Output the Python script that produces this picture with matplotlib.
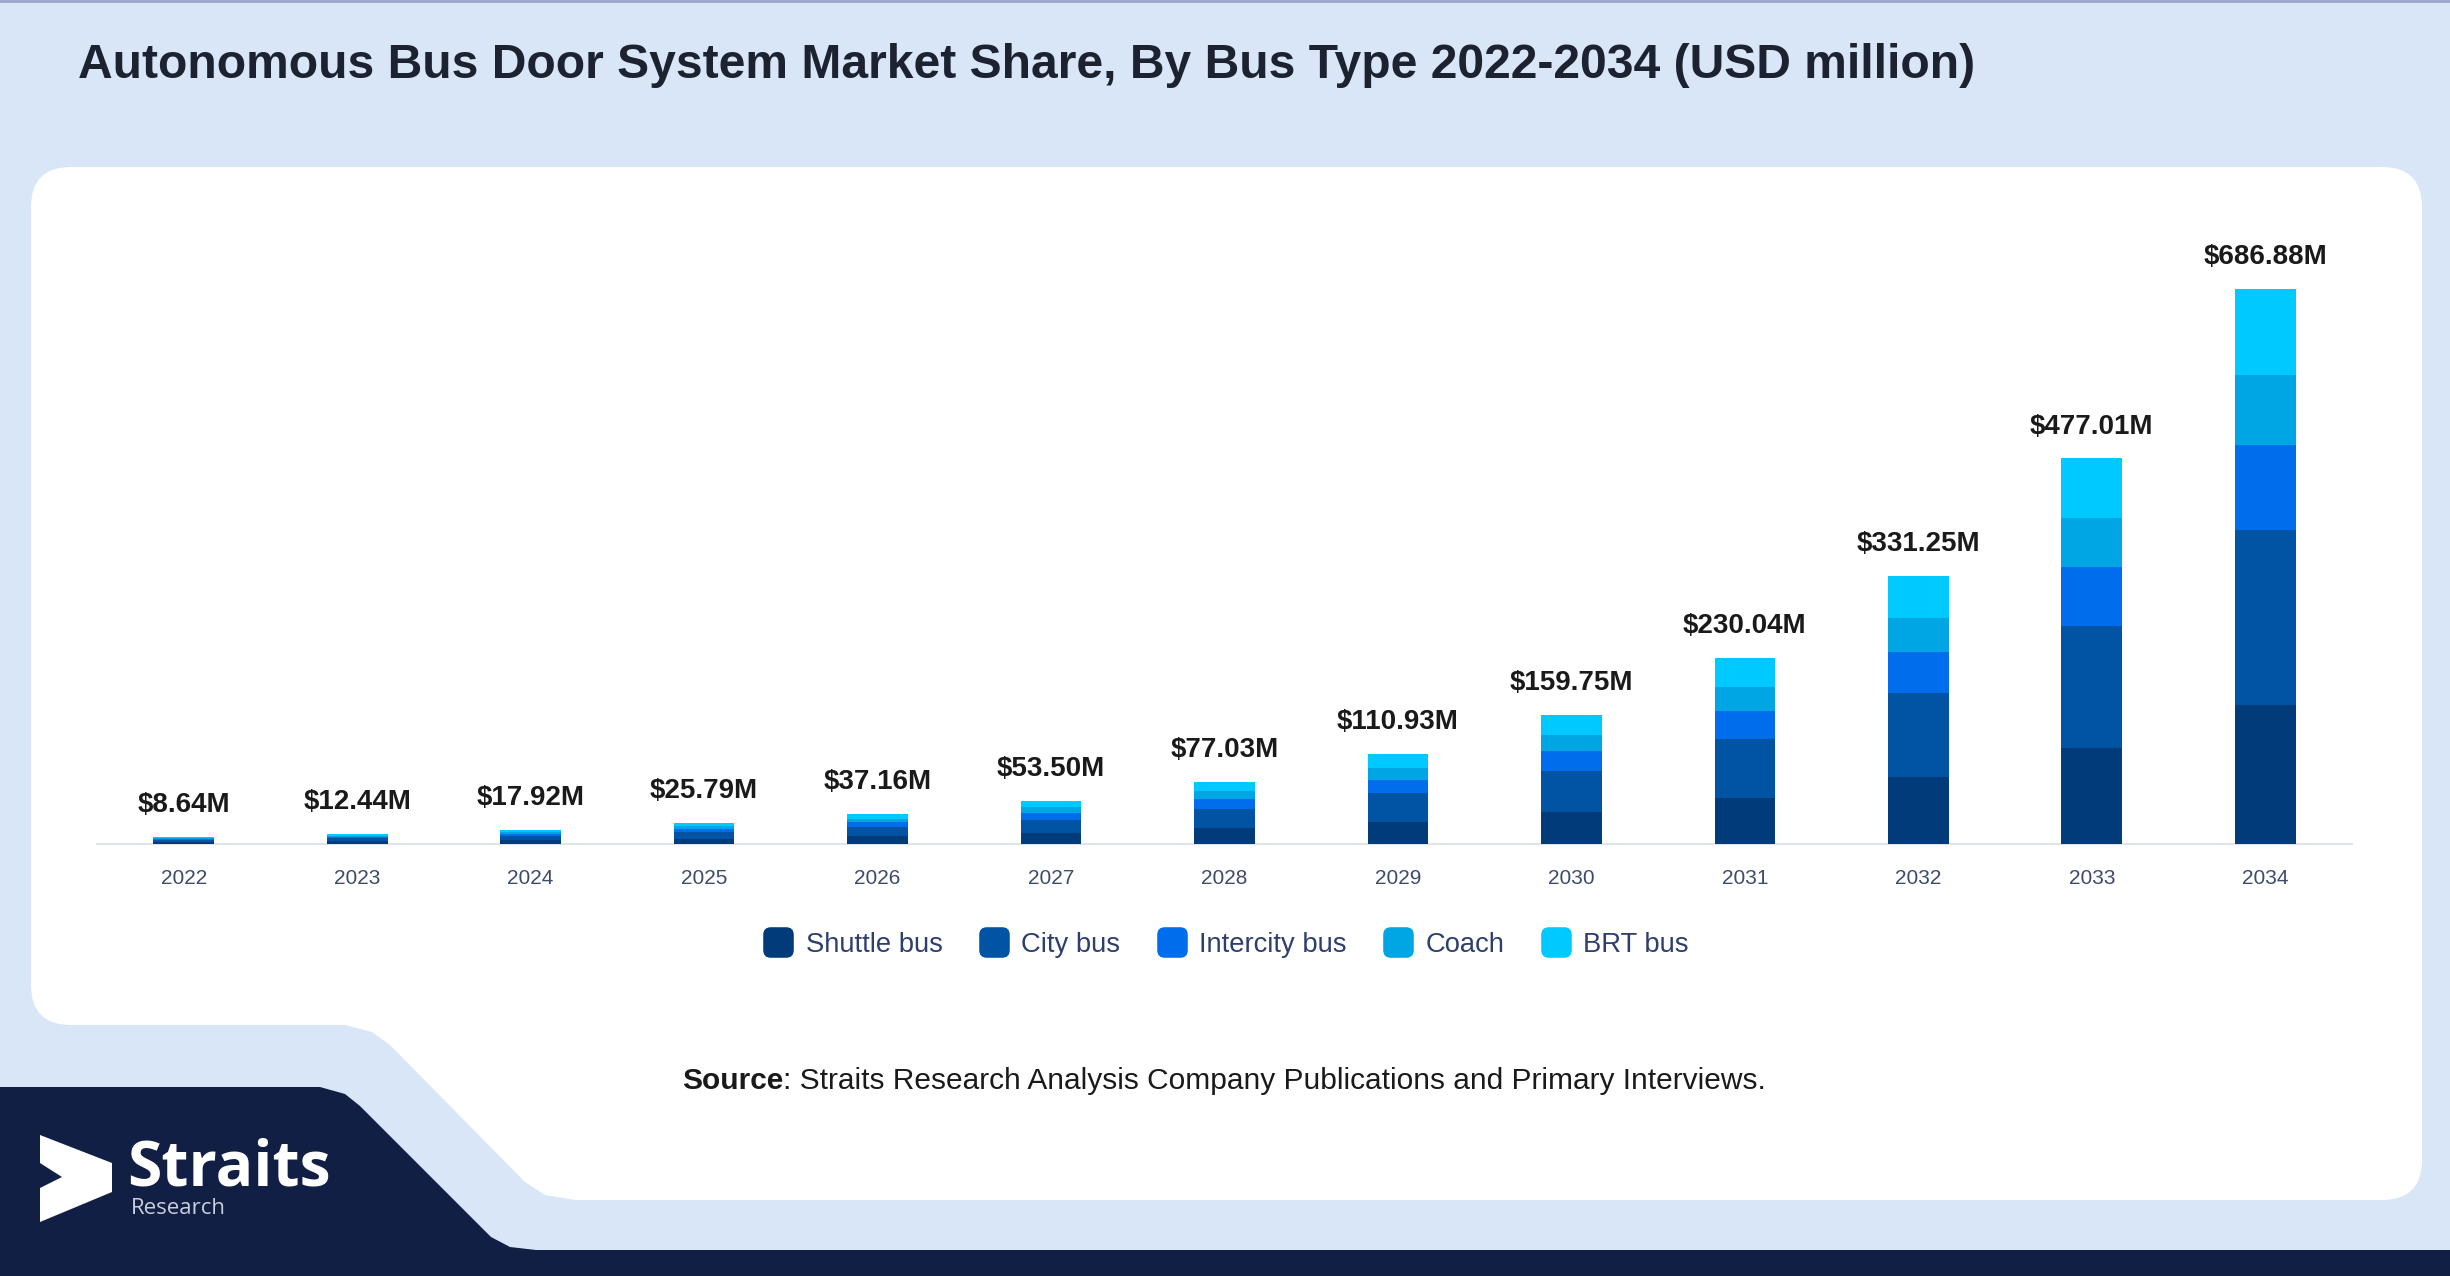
import matplotlib.pyplot as plt
import numpy as np
from matplotlib.patches import FancyBboxPatch, Polygon, BoxStyle
from matplotlib.lines import Line2D

# Datos del gráfico (USD millones)
years = ['2022', '2023', '2024', '2025', '2026', '2027', '2028',
         '2029', '2030', '2031', '2032', '2033', '2034']
totals = [8.64, 12.44, 17.92, 25.79, 37.16, 53.50, 77.03,
          110.93, 159.75, 230.04, 331.25, 477.01, 686.88]
shuttle = [2.16, 3.11, 4.48, 6.45, 9.29, 13.38, 19.26,
           27.73, 39.94, 57.51, 82.81, 119.25, 171.72]
city = [2.72, 3.92, 5.64, 8.12, 11.71, 16.85, 24.26,
        34.94, 50.32, 72.46, 104.34, 150.26, 216.37]
intercity = [1.32, 1.90, 2.74, 3.95, 5.69, 8.19, 11.79,
             16.97, 24.44, 35.20, 50.68, 72.98, 105.09]
coach = [1.10, 1.58, 2.28, 3.28, 4.72, 6.79, 9.78,
         14.09, 20.29, 29.22, 42.07, 60.58, 87.23]
brt = [1.34, 1.93, 2.78, 3.99, 5.75, 8.29, 11.94,
       17.20, 24.76, 35.65, 51.35, 73.94, 106.47]

series_names = ['Shuttle bus', 'City bus', 'Intercity bus', 'Coach', 'BRT bus']
series_colors = ['#013b79', '#0153a4', '#006ded', '#00a5e3', '#00c9ff']

plt.rcParams['font.family'] = ['Liberation Sans', 'DejaVu Sans']

W, H = 2450, 1276
fig = plt.figure(figsize=(W / 100, H / 100), dpi=100)
fig.patch.set_facecolor('#d9e6f8')

# Capa de fondo en coordenadas de pixel
bg = fig.add_axes([0, 0, 1, 1], zorder=0)
bg.set_xlim(0, W)
bg.set_ylim(H, 0)
bg.axis('off')

# Panel blanco
bg.add_patch(FancyBboxPatch((31 + 40, 167 + 40), 2391 - 80, 1033 - 80,
                            boxstyle='round,pad=40', fc='white', ec='none'))
# Recorte azul claro abajo a la izquierda
bg.add_patch(Polygon([(0, 980), (300, 980), (300, 1025), (345, 1025), (372, 1032),
                      (390, 1045), (525, 1182), (545, 1195), (575, 1200), (0, 1200)],
                     closed=True, fc='#d9e6f8', ec='none'))
bg.add_patch(FancyBboxPatch((31 + 40, 900), 500, 125 - 40,
                            boxstyle='round,pad=40', fc='white', ec='none'))
# Franja azul marino
bg.add_patch(Polygon([(0, 1087), (320, 1087), (345, 1094), (360, 1106), (491, 1237),
                      (510, 1247), (536, 1250), (W, 1250), (W, H), (0, H)],
                     closed=True, fc='#111f45', ec='none'))
bg.plot([0, W], [1, 1], color='#9aa6c8', lw=2)

# Logo
bg.add_patch(Polygon([(40, 1135), (112, 1163), (112, 1192), (40, 1222),
                      (40, 1188), (62, 1177), (40, 1163)],
                     closed=True, fc='white', ec='none'))
bg.text(127, 1186, 'Straits', fontsize=45, fontweight='bold', family='Open Sans',
        color='white', ha='left', va='baseline')
bg.text(131, 1214, 'Research', fontsize=16, family='Open Sans',
        color='#c9cfdd', ha='left', va='baseline')

# Título
bg.text(78, 66, 'Autonomous Bus Door System Market Share, By Bus Type 2022-2034 (USD million)',
        fontsize=34.6, fontweight='bold', color='#1c2230', ha='left', va='center')

# Fuente
bg.text(783, 1081, 'Source', fontsize=21.5, fontweight='bold', color='#1a1a1a',
        ha='right', va='center')
bg.text(783, 1081, ': Straits Research Analysis Company Publications and Primary Interviews.',
        fontsize=21.5, color='#1a1a1a', ha='left', va='center')

# Gráfico de barras apiladas
ax = fig.add_axes([97 / W, 1 - 844 / H, (2352 - 97) / W, (844 - 250) / H], zorder=2)
ax.patch.set_alpha(0)
x = np.arange(len(years))
bottom = np.zeros(len(years))
for vals, name, col in zip([shuttle, city, intercity, coach, brt], series_names, series_colors):
    ax.bar(x, vals, bottom=bottom, width=0.35, color=col, label=name, zorder=3)
    bottom += np.array(vals)

for i, t in enumerate(totals):
    ax.annotate(f'${t:.2f}M', xy=(i, bottom[i]), xytext=(0, 23), textcoords='offset points',
                ha='center', va='center', fontsize=20, fontweight='bold', color='#1a1a1a',
                annotation_clip=False)

ax.set_xlim(-0.5, len(years) - 0.5)
ax.set_ylim(0, 735)
ax.set_xticks(x)
ax.set_xticklabels(years, fontsize=15, color='#3d4b6b')
ax.tick_params(axis='x', length=0, pad=18)
ax.set_yticks([])
for s in ['top', 'right', 'left']:
    ax.spines[s].set_visible(False)
ax.spines['bottom'].set_color('#dfe3ea')
ax.spines['bottom'].set_linewidth(1.5)

# Leyenda con marcadores cuadrados redondeados
rsq = BoxStyle.Round(pad=0, rounding_size=0.25)(-0.5, -0.5, 1, 1, 1.0)
handles = [Line2D([], [], ls='none', marker=rsq, markersize=22, markerfacecolor=c,
                  markeredgecolor='none') for c in series_colors]
fig.legend(handles, series_names, loc='center', bbox_to_anchor=(1226 / W, 1 - 945 / H),
           ncol=5, frameon=False, fontsize=19.7, labelcolor='#2e3f6e',
           handlelength=1.1, handletextpad=0.45, columnspacing=1.33)

fig.savefig('out.png', dpi=100, facecolor=fig.get_facecolor())
